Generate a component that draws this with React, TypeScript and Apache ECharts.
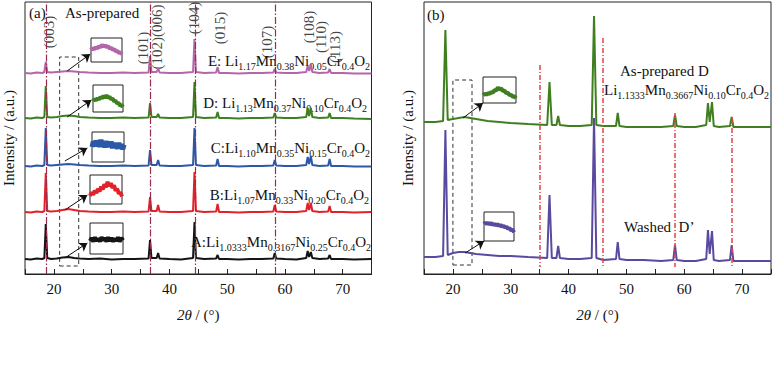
import React, { useEffect, useRef } from 'react';
import * as echarts from 'echarts';

const FONT = "'Liberation Serif', 'Times New Roman', Times, serif";

// ---------- Panel (a): XRD patterns, [2θ (°), intensity (a.u., stacked)] ----------
const patternA: number[][] = [[15,15],[16,14.5],[17,15.5],[18,15],[18.35,16],[18.6,50],[18.85,16],[19.5,15],[20.5,15.5],[21.5,16.5],[22.5,17],[23.5,16],[24.5,15.5],[26,15],[28,15.5],[30,14.5],[32,15],[34,15],[36.4,15.5],[36.65,34],[36.9,16],[37.8,16],[38.05,21],[38.3,15.5],[40,15],[42,14.5],[44.1,16],[44.35,52],[44.6,16],[46,15],[48.1,15.5],[48.35,19],[48.6,15],[50,15],[52,14.5],[54,15],[56,15],[58,15.5],[58.25,21],[58.5,15.5],[60,15],[62,14.5],[63.7,16],[63.95,23],[64.2,17],[64.5,22],[64.75,16],[66,15],[67.5,15.5],[67.75,19],[68,15],[70,15],[72,14.5],[75,15]];
const patternB: number[][] = [[15,62],[16,61.5],[17,62.5],[18,62],[18.35,63],[18.6,101],[18.85,63],[19.5,62.5],[20.5,63],[21.5,64],[22.5,65],[23.5,64],[24.5,63],[26,62.5],[28,62],[30,62],[32,62.5],[34,62],[36.4,62.5],[36.65,77],[36.9,63],[37.8,63],[38.05,69],[38.3,62.5],[40,62],[42,62],[44.1,63],[44.35,102],[44.6,63],[46,62],[48.1,62.5],[48.35,70],[48.6,62],[50,62],[52,61.5],[54,62],[56,62],[58,62.5],[58.25,69],[58.5,62.5],[60,62],[62,62],[63.7,63],[63.95,71],[64.2,64],[64.5,71],[64.75,63],[66,62],[67.5,62.5],[67.75,68],[68,62],[70,62],[72,61.5],[75,62]];
const patternC: number[][] = [[15,108],[16,107.5],[17,108.5],[18,108],[18.35,109],[18.6,146],[18.85,109],[19.5,108.5],[20.5,109],[21.5,109.5],[22.5,110],[23.5,109.5],[24.5,109],[26,108.5],[28,108],[30,108],[32,108.5],[34,108],[36.4,108.5],[36.65,124],[36.9,109],[37.8,109],[38.05,114],[38.3,108.5],[40,108],[42,108],[44.1,109],[44.35,146],[44.6,109],[46,108],[48.1,108.5],[48.35,115],[48.6,108],[50,108],[52,107.5],[54,108],[56,108],[58,108.5],[58.25,114],[58.5,108.5],[60,108],[62,108],[63.7,109],[63.95,117],[64.2,110],[64.5,118],[64.75,109],[66,108],[67.5,108.5],[67.75,115],[68,108],[70,108],[72,107.5],[75,107.5]];
const patternD: number[][] = [[15,156],[16,155.5],[17,156.5],[18,156],[18.35,157],[18.6,188],[18.85,157],[19.5,156.5],[20.5,157],[21.5,158],[22.5,158.5],[23.5,158],[24.5,157],[26,156.5],[28,156],[30,156],[32,156.5],[34,156],[36.4,156.5],[36.65,171],[36.9,157],[37.8,157],[38.05,160],[38.3,156.5],[40,156],[42,156],[44.1,157],[44.35,192],[44.6,157],[46,156],[48.1,156.5],[48.35,162],[48.6,156],[50,156],[52,155.5],[54,156],[56,156],[58,156.5],[58.25,161],[58.5,156.5],[60,156],[62,156],[63.7,157],[63.95,166],[64.2,158],[64.5,166],[64.75,157],[66,156],[67.5,156.5],[67.75,161],[68,156],[70,156],[72,155.5],[75,155]];
const patternE: number[][] = [[15,201],[16,200.5],[17,201.5],[18,201],[18.35,202],[18.6,212],[18.85,202],[19.5,201.5],[20.5,202],[21.5,202.5],[22.5,203],[23.5,202.5],[24.5,202],[26,201.5],[28,201],[30,201],[32,201.5],[34,201],[36.4,201.5],[36.65,218],[36.9,202],[37.8,202],[38.05,206],[38.3,201.5],[40,201],[42,201],[44.1,202],[44.35,235],[44.6,202],[46,201],[48.1,201.5],[48.35,207],[48.6,201],[50,201],[52,200.5],[54,201],[56,201],[58,201.5],[58.25,205],[58.5,201.5],[60,201],[62,201],[63.7,202],[63.95,208],[64.2,203],[64.5,210],[64.75,202],[66,201],[67.5,201.5],[67.75,205],[68,201],[70,201],[72,200.5],[75,200.5]];

// ---------- Panel (b) ----------
const patternAsPrepD: number[][] = [[15,152],[17,152],[18.3,153],[18.7,244],[19.1,154],[20,155],[21,156],[22,157],[23,156],[24,155],[26,153],[28,152],[30,151],[33,150],[36.3,149],[36.7,192],[37.1,149],[37.9,149],[38.2,158],[38.5,149],[40,148],[42,148],[44,149],[44.4,258],[44.8,149],[46,148],[48.2,148],[48.5,161],[48.8,148],[50,147],[53,147],[56,147],[58.1,148],[58.4,159],[58.7,148],[60,147],[62,147],[63.8,149],[64.1,171],[64.4,152],[64.8,172],[65.1,148],[66,147],[67.9,148],[68.2,157],[68.5,147],[70,147],[72,147],[75,147]];
const patternWashedD: number[][] = [[15,17],[17,17],[18.3,18],[18.7,144],[19.1,19],[20,21],[21,22],[22,22],[23,21],[24,20],[26,19],[28,18],[30,18],[33,17],[36.3,16],[36.7,79],[37.1,16],[37.9,16],[38.2,28],[38.5,16],[40,15],[42,15],[44,16],[44.4,156],[44.8,16],[46,14],[48.2,15],[48.5,32],[48.8,15],[50,14],[53,14],[56,13],[58.1,14],[58.4,29],[58.7,14],[60,13],[62,13],[63.8,15],[64.1,44],[64.4,20],[64.8,43],[65.1,14],[66,13],[67.9,14],[68.2,29],[68.5,13],[70,13],[72,13],[75,13]];

// ---------- Insets: magnified ~20–24° region (relative units) ----------
const insetE: number[][] = [[0,50],[0.5,58],[1,52],[1.5,62],[2,56],[2.5,66],[3,60],[3.5,72],[4,64],[4.5,70],[5,62],[5.5,66],[6,56],[6.5,60],[7,50],[7.5,54],[8,44],[8.5,46],[9,38],[9.5,40],[10,32]];
const insetD: number[][] = [[0,40],[0.5,48],[1,43],[1.5,51],[2,46],[2.5,56],[3,50],[3.5,60],[4,53],[4.5,62],[5,52],[5.5,57],[6,47],[6.5,50],[7,40],[7.5,42],[8,32],[8.5,34],[9,24],[9.5,26],[10,18]];
const insetC: number[][] = [[0,50],[0.4,68],[0.8,52],[1.2,72],[1.6,55],[2,70],[2.4,50],[2.8,74],[3.2,54],[3.6,68],[4,48],[4.4,70],[4.8,52],[5.2,66],[5.6,50],[6,68],[6.4,46],[6.8,64],[7.2,48],[7.6,62],[8,44],[8.4,64],[8.8,46],[9.2,60],[9.6,42],[10,58]];
const insetB: number[][] = [[0,28],[0.5,40],[1,32],[1.5,46],[2,38],[2.5,52],[3,44],[3.5,60],[4,50],[4.5,68],[5,58],[5.5,76],[6,62],[6.5,72],[7,56],[7.5,64],[8,46],[8.5,52],[9,36],[9.5,40],[10,26]];
const insetA: number[][] = [[0,42],[0.5,52],[1,40],[1.5,54],[2,42],[2.5,50],[3,40],[3.5,54],[4,44],[4.5,52],[5,40],[5.5,54],[6,42],[6.5,52],[7,40],[7.5,50],[8,42],[8.5,54],[9,40],[9.5,52],[10,44]];
const insetAsPrep: number[][] = [[0,30],[0.5,36],[1,32],[1.5,38],[2,35],[2.5,42],[3,40],[3.5,50],[4,48],[4.5,60],[5,52],[5.5,56],[6,46],[6.5,48],[7,38],[7.5,40],[8,30],[8.5,32],[9,24],[9.5,26],[10,18]];
const insetWashed: number[][] = [[0,58],[0.5,64],[1,58],[1.5,63],[2,57],[2.5,62],[3,55],[3.5,60],[4,53],[4.5,58],[5,52],[5.5,56],[6,49],[6.5,53],[7,46],[7.5,50],[8,42],[8.5,45],[9,36],[9.5,40],[10,30]];

// reference lines (2θ)
const refLinesA = [18.6, 36.7, 44.4, 58.3];
const refLinesB = [35.0, 45.9, 58.4, 68.2];

const millerNames = ['(003)', '(101)', '(102)(006)', '(104)', '(015)', '(107)', '(108)', '(110)', '(113)'];

const formulaE = ['E: Li', '1.17', 'Mn', '0.38', 'Ni', '0.05', 'Cr', '0.4', 'O', '2'];
const formulaD = ['D: Li', '1.13', 'Mn', '0.37', 'Ni', '0.10', 'Cr', '0.4', 'O', '2'];
const formulaC = ['C:Li', '1.10', 'Mn', '0.35', 'Ni', '0.15', 'Cr', '0.4', 'O', '2'];
const formulaB = ['B:Li', '1.07', 'Mn', '0.33', 'Ni', '0.20', 'Cr', '0.4', 'O', '2'];
const formulaA = ['A:Li', '1.0333', 'Mn', '0.3167', 'Ni', '0.25', 'Cr', '0.4', 'O', '2'];
const formulaBD = ['Li', '1.1333', 'Mn', '0.3667', 'Ni', '0.10', 'Cr', '0.4', 'O', '2'];

const COL = {
  A: '#151515', B: '#e1222b', C: '#2b59a8', D: '#3c8020', E: '#b466aa',
  bD: '#3f7f1f', bW: '#5a4a9f', refA: '#9a2a4a', refB: '#e3414b',
};

const RICH = {
  n: { fontSize: 15, fontFamily: FONT, lineHeight: 20, fill: '#111' },
  s: { fontSize: 10, fontFamily: FONT, lineHeight: 20, verticalAlign: 'bottom', fill: '#111' },
};
const richStr = (parts: string[]) => parts.map((p, i) => `{${i % 2 ? 's' : 'n'}|${p}}`).join('');

function buildOption() {
  const mainX = (gridIndex: number) => ({
    type: 'value', gridIndex, min: 15, max: 75, interval: 5,
    axisLine: { show: true, lineStyle: { color: '#222', width: 1 } },
    axisTick: { show: true, inside: true, length: 5, lineStyle: { color: '#222' } },
    axisLabel: {
      fontSize: 15, fontFamily: FONT, color: '#111', margin: 7,
      formatter: (v: number) => (v % 10 === 0 ? String(v) : ''),
    },
    splitLine: { show: false },
    name: '{i|2θ}{n| / (°)}', nameLocation: 'middle', nameGap: 33,
    nameTextStyle: {
      fontFamily: FONT, fontSize: 15,
      rich: {
        i: { fontSize: 15, fontFamily: FONT, fontStyle: 'italic', color: '#111' },
        n: { fontSize: 15, fontFamily: FONT, color: '#111' },
      },
    },
  });
  const mainY = (gridIndex: number) => ({
    type: 'value', gridIndex, min: 0, max: 272,
    axisLine: { show: false }, axisTick: { show: false }, axisLabel: { show: false }, splitLine: { show: false },
    name: 'Intensity / (a.u.)', nameLocation: 'middle', nameGap: 9,
    nameTextStyle: { fontSize: 15, fontFamily: FONT, color: '#111' },
  });
  const insetX = (gridIndex: number) => ({ type: 'value', gridIndex, min: 0, max: 10, show: false });
  const insetY = (gridIndex: number) => ({ type: 'value', gridIndex, min: 0, max: 100, show: false });

  const insetGrids = [
    { left: 91, top: 38, width: 31, height: 24 },
    { left: 93, top: 85, width: 30, height: 27 },
    { left: 92, top: 132, width: 32, height: 30 },
    { left: 90, top: 175, width: 32, height: 29 },
    { left: 90, top: 223, width: 33, height: 31 },
    { left: 483, top: 77, width: 33, height: 26 },
    { left: 484, top: 212, width: 30, height: 29 },
  ].map((g) => ({ ...g, show: true, borderColor: '#222', borderWidth: 1, backgroundColor: 'transparent' }));

  const grids = [
    { left: 25, top: 2, width: 346.5, height: 272, show: true, borderColor: '#222', borderWidth: 1 },
    { left: 424, top: 2, width: 347, height: 272, show: true, borderColor: '#222', borderWidth: 1 },
    ...insetGrids,
  ];

  const xAxes: any[] = [mainX(0), mainX(1)];
  const yAxes: any[] = [mainY(0), mainY(1)];
  for (let i = 2; i < grids.length; i++) { xAxes.push(insetX(i)); yAxes.push(insetY(i)); }

  const line = (data: number[][], color: string, idx: number, width = 2, extra: any = {}) => ({
    type: 'line', data, xAxisIndex: idx, yAxisIndex: idx, showSymbol: false, symbol: 'none',
    lineStyle: { color, width }, itemStyle: { color }, silent: true, ...extra,
  });

  const arrow = (from: number[], to: number[]) => [
    { coord: from, symbol: 'none', lineStyle: { type: 'solid', color: '#111', width: 1 } },
    { coord: to, symbol: 'arrow', symbolSize: 8, lineStyle: { type: 'solid', color: '#111', width: 1 } },
  ];

  const dashedBox = (x0: number, y0: number, x1: number, y1: number) => [
    { coord: [x0, y0] }, { coord: [x1, y1] },
  ];

  const markAreaStyle = {
    silent: true,
    itemStyle: { color: 'rgba(0,0,0,0)', borderColor: '#333', borderWidth: 1, borderType: [4, 3] },
    label: { show: false },
  };

  const millerPos = [
    [19.2, 242], [35.5, 226], [37.9, 237], [44.3, 256], [48.8, 246],
    [56.9, 232], [64.1, 247], [66.3, 237], [68.7, 227],
  ];

  const series: any[] = [
    line(patternA, COL.A, 0, 2, {
      markLine: {
        silent: true, symbol: ['none', 'none'], label: { show: false },
        lineStyle: { color: COL.refA, width: 1.2, type: [7, 2, 1.5, 2] },
        data: refLinesA.map((v) => ({ xAxis: v })),
      },
    }),
    line(patternB, COL.B, 0, 2, {
      markLine: {
        silent: true, symbol: ['none', 'none'], label: { show: false },
        data: [
          arrow([22.3, 203], [26.3, 220]),
          arrow([22.3, 157], [26.5, 174]),
          arrow([21.9, 113], [25.8, 126]),
          arrow([21.9, 64], [25.8, 79]),
          arrow([21.9, 16], [25.8, 31]),
        ],
      },
    }),
    line(patternC, COL.C, 0, 2, {
      markArea: { ...markAreaStyle, data: [dashedBox(21.0, 8, 24.3, 217)] },
    }),
    line(patternD, COL.D, 0),
    line(patternE, COL.E, 0),
    {
      type: 'scatter', xAxisIndex: 0, yAxisIndex: 0, symbolSize: 1, silent: true,
      itemStyle: { color: 'rgba(0,0,0,0)' },
      label: { show: true, position: 'inside', rotate: 90, formatter: '{b}', fontSize: 15, fontFamily: FONT, color: '#111' },
      data: millerNames.map((n, i) => ({ name: n, value: millerPos[i] })),
    },
    line(patternWashedD, COL.bW, 1, 2, {
      markLine: {
        silent: true, symbol: ['none', 'none'], label: { show: false },
        data: [arrow([21.75, 156], [25.2, 171]), arrow([22.1, 21], [25.4, 33])],
      },
      markArea: { ...markAreaStyle, data: [dashedBox(20.0, 9, 23.3, 194)] },
    }),
    line(patternAsPrepD, COL.bD, 1, 2, {
      markLine: {
        silent: true, symbol: ['none', 'none'], label: { show: false },
        lineStyle: { color: COL.refB, width: 1.5, type: [5, 2, 1, 2] },
        data: [
          [{ coord: [refLinesB[0], 209] }, { coord: [refLinesB[0], 7] }],
          [{ coord: [refLinesB[1], 236] }, { coord: [refLinesB[1], 7] }],
          [{ coord: [refLinesB[2], 161] }, { coord: [refLinesB[2], 7] }],
          [{ coord: [refLinesB[3], 156] }, { coord: [refLinesB[3], 7] }],
        ],
      },
    }),
    line(insetE, COL.E, 2, 4),
    line(insetD, COL.D, 3, 4),
    line(insetC, COL.C, 4, 5),
    line(insetB, COL.B, 5, 4),
    line(insetA, COL.A, 6, 4),
    line(insetAsPrep, COL.bD, 7, 4),
    line(insetWashed, COL.bW, 8, 4),
  ];

  const txt = (text: string, x: number, y: number, align = 'left') => ({
    type: 'text', x, y, silent: true,
    style: { text, fontSize: 15, fontFamily: FONT, fill: '#111', align, verticalAlign: 'middle' },
  });
  const formula = (parts: string[], x: number, y: number, align = 'right') => ({
    type: 'text', x, y, silent: true,
    style: { text: richStr(parts), rich: RICH, fontSize: 15, fontFamily: FONT, fill: '#111', align, verticalAlign: 'middle' },
  });

  const graphic = [
    txt('(a)', 29, 13),
    txt('As-prepared', 65, 13),
    formula(formulaE, 370, 61),
    formula(formulaD, 367, 103),
    formula(formulaC, 370, 148),
    formula(formulaB, 369, 195),
    formula(formulaA, 371, 242),
    txt('(b)', 427, 15),
    txt('As-prepared D', 620, 71),
    formula(formulaBD, 769, 90),
    txt('Washed\u00a0 D’', 624, 227),
  ];

  return {
    animation: false,
    backgroundColor: '#fff',
    textStyle: { fontFamily: FONT },
    grid: grids,
    xAxis: xAxes,
    yAxis: yAxes,
    series,
    graphic,
  };
}

export default function App() {
  const ref = useRef<HTMLDivElement>(null);
  useEffect(() => {
    const chart = echarts.init(ref.current!, null, { renderer: 'svg' });
    chart.setOption(buildOption() as any);
    return () => chart.dispose();
  }, []);
  return <div ref={ref} style={{ position: 'fixed', left: 0, top: 0, width: 780, height: 385 }} />;
}
